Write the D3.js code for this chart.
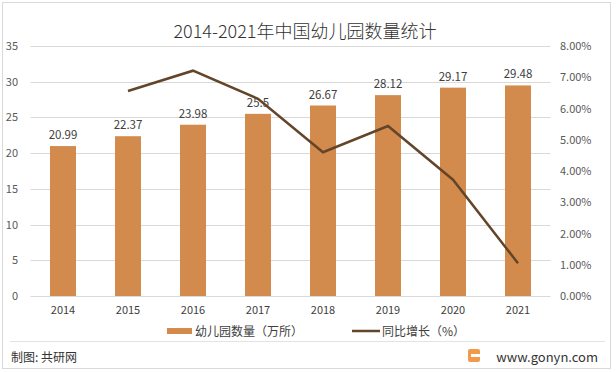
<!DOCTYPE html>
<html>
<head>
<meta charset="utf-8">
<script src="https://cdn.jsdelivr.net/npm/d3@7"></script>
<style>
body { margin: 0; background: #fff; }
text { font-family: "Noto Sans CJK SC", "DejaVu Sans", sans-serif; }
</style>
</head>
<body>
<svg width="616" height="372"></svg>
<script>
// data
var years = ["2014", "2015", "2016", "2017", "2018", "2019", "2020", "2021"];
var counts = [20.99, 22.37, 23.98, 25.5, 26.67, 28.12, 29.17, 29.48];
var growth = [null, 6.56, 7.21, 6.31, 4.60, 5.44, 3.72, 1.05];
var leftTicks = [0, 5, 10, 15, 20, 25, 30, 35];
var rightTicks = [0, 1, 2, 3, 4, 5, 6, 7, 8];

var svg = d3.select("svg");
var plot = {left: 30.5, right: 550.5, top: 46, bottom: 296};

// outer frame + footer divider
svg.append("rect").attr("x", 2.5).attr("y", 2.5).attr("width", 608).attr("height", 366)
  .attr("fill", "none").attr("stroke", "#d9d9d9");
svg.append("line").attr("x1", 10).attr("x2", 605).attr("y1", 341.5).attr("y2", 341.5)
  .attr("stroke", "#e3e3e3");

// scales
var x = d3.scaleBand().domain(years).range([plot.left, plot.right]).paddingInner(0.6).paddingOuter(0.3);
var y = d3.scaleLinear().domain([0, 35]).range([plot.bottom, plot.top]);
var y2 = d3.scaleLinear().domain([0, 8]).range([plot.bottom, plot.top]);

// gridlines
svg.append("g").selectAll("line").data(leftTicks).enter().append("line")
  .attr("x1", plot.left).attr("x2", plot.right)
  .attr("y1", d => Math.round(y(d)) + 0.5).attr("y2", d => Math.round(y(d)) + 0.5)
  .attr("stroke", "#d9d9d9");

// axes
var yAxis = d3.axisLeft(y).tickValues(leftTicks).tickSize(0).tickPadding(0);
svg.append("g").attr("transform", "translate(18,0)").call(yAxis)
  .call(g => g.select(".domain").remove())
  .selectAll("text").attr("fill", "#595959").attr("font-size", 11).attr("font-family", "Liberation Sans, sans-serif");

var y2Axis = d3.axisRight(y2).tickValues(rightTicks).tickSize(0).tickPadding(0)
  .tickFormat(d => d.toFixed(2) + "%");
svg.append("g").attr("transform", "translate(560,0)").call(y2Axis)
  .call(g => g.select(".domain").remove())
  .selectAll("text").attr("fill", "#595959").attr("font-size", 11).attr("font-family", "Liberation Sans, sans-serif");

var xAxis = d3.axisBottom(x).tickSize(0).tickPadding(0);
svg.append("g").attr("transform", "translate(0,306)").call(xAxis)
  .call(g => g.select(".domain").remove())
  .selectAll("text").attr("fill", "#404040").attr("font-size", 11).attr("font-family", "Liberation Sans, sans-serif");

// bars
svg.append("g").selectAll("rect").data(counts).enter().append("rect")
  .attr("x", (d, i) => x(years[i]))
  .attr("y", d => y(d))
  .attr("width", x.bandwidth())
  .attr("height", d => plot.bottom - y(d))
  .attr("fill", "#d38b4d");

svg.append("g").selectAll("text").data(counts).enter().append("text")
  .attr("x", (d, i) => x(years[i]) + x.bandwidth() / 2)
  .attr("y", d => y(d) - 7)
  .attr("text-anchor", "middle")
  .attr("font-size", 11.5)
  .attr("font-family", "Liberation Sans, sans-serif")
  .attr("fill", "#404040")
  .text(d => d);

// growth line
var pts = growth.map((g, i) => ({year: years[i], v: g})).filter(d => d.v !== null);
var line = d3.line().x(d => x(d.year) + x.bandwidth() / 2).y(d => y2(d.v));
svg.append("path").datum(pts).attr("d", line)
  .attr("fill", "none").attr("stroke", "#634529").attr("stroke-width", 2.5);

// title
svg.append("text").attr("x", 305).attr("y", 38).attr("text-anchor", "middle")
  .attr("font-size", 18).attr("font-weight", 300).attr("fill", "#333").text("2014-2021年中国幼儿园数量统计");

// legend
var leg = svg.append("g").attr("transform", "translate(0,331)");
leg.append("rect").attr("x", 167).attr("y", -3).attr("width", 25).attr("height", 6).attr("fill", "#d38b4d");
leg.append("text").attr("x", 195).attr("y", 4.5).attr("font-size", 12).attr("fill", "#404040").text("幼儿园数量（万所）");
leg.append("line").attr("x1", 352).attr("x2", 380).attr("y1", 0).attr("y2", 0)
  .attr("stroke", "#634529").attr("stroke-width", 2.5);
leg.append("text").attr("x", 382).attr("y", 4.5).attr("font-size", 12).attr("fill", "#404040").text("同比增长（%）");

// footer
svg.append("text").attr("x", 11).attr("y", 362).attr("font-size", 12).attr("fill", "#333").text("制图: 共研网");
var logo = svg.append("g").attr("transform", "translate(468,349)");
logo.append("rect").attr("width", 12).attr("height", 13).attr("rx", 2).attr("fill", "#f2994a");
logo.append("rect").attr("x", 3).attr("y", 5).attr("width", 9).attr("height", 3).attr("fill", "#fff");
svg.append("text").attr("x", 598).attr("y", 362).attr("text-anchor", "end")
  .attr("font-size", 13).attr("fill", "#333").attr("font-family", "Liberation Sans, sans-serif").text("www.gonyn.com");
</script>
</body>
</html>
